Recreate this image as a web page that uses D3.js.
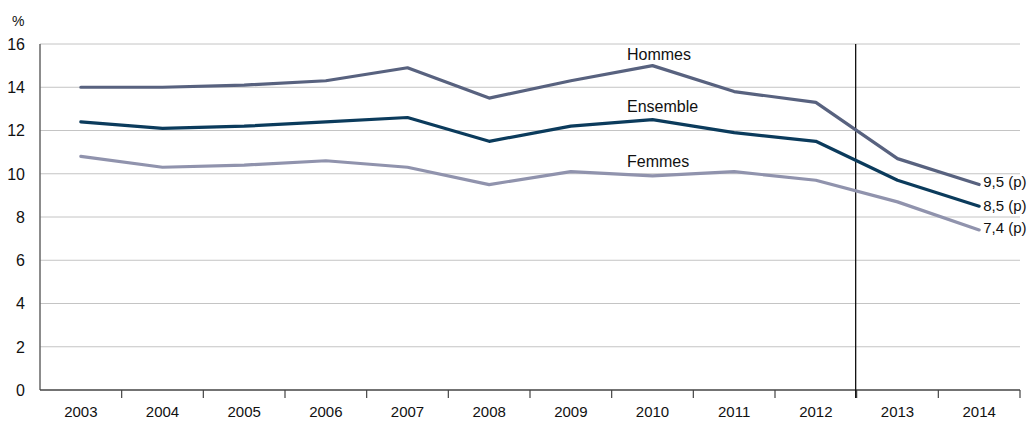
<!DOCTYPE html>
<html><head><meta charset="utf-8">
<script src="https://cdn.jsdelivr.net/npm/d3@7/dist/d3.min.js"></script>
<style>
body{margin:0;background:#fff;}
text{font-family:"Liberation Sans",Arial,sans-serif;fill:#111;}
</style></head>
<body>
<svg id="c" width="1029" height="421"></svg>
<script>
const years = ["2003","2004","2005","2006","2007","2008","2009","2010","2011","2012","2013","2014"];
const hommes   = [14.0,14.0,14.1,14.3,14.9,13.5,14.3,15.0,13.8,13.3,10.7,9.5];
const ensemble = [12.4,12.1,12.2,12.4,12.6,11.5,12.2,12.5,11.9,11.5,9.7,8.5];
const femmes   = [10.8,10.3,10.4,10.6,10.3,9.5,10.1,9.9,10.1,9.7,8.7,7.4];
const yTicks = [0,2,4,6,8,10,12,14,16];
const seriesNames = ["Hommes","Ensemble","Femmes"];
const endLabels = ["9,5 (p)","8,5 (p)","7,4 (p)"];

const svg = d3.select("#c");
const L = 40, R = 1020, T = 44, B = 390;
const x = d3.scaleBand().domain(years).range([L, R]);
const y = d3.scaleLinear().domain([0,16]).range([B, T]);

// gridlines
svg.append("g").selectAll("line").data(yTicks.filter(d=>d>0)).join("line")
  .attr("x1", L).attr("x2", R).attr("y1", d=>y(d)).attr("y2", d=>y(d))
  .attr("stroke", "#c4c4c4").attr("stroke-width", 1);

// y tick labels
svg.append("g").selectAll("text").data(yTicks).join("text")
  .attr("x", 25).attr("y", d=>y(d)).attr("dy","0.36em")
  .attr("text-anchor","end").attr("font-size", 16).text(d=>d);
svg.append("text").attr("x", 12).attr("y", 26).attr("font-size", 14).text("%");

// axes lines
svg.append("line").attr("x1", L).attr("x2", L).attr("y1", T).attr("y2", B)
  .attr("stroke", "#666").attr("stroke-width", 1.5);
svg.append("line").attr("x1", L).attr("x2", R).attr("y1", B).attr("y2", B)
  .attr("stroke", "#444").attr("stroke-width", 1.5);

// x ticks between categories
const bounds = years.slice(1).map(d=>x(d)).concat([R]);
svg.append("g").selectAll("line").data(bounds).join("line")
  .attr("x1", d=>d).attr("x2", d=>d).attr("y1", B).attr("y2", B+8)
  .attr("stroke", "#444").attr("stroke-width", 1.2);

// x labels
svg.append("g").selectAll("text").data(years).join("text")
  .attr("x", d=>x(d)+x.bandwidth()/2).attr("y", 417)
  .attr("text-anchor","middle").attr("font-size", 15).text(d=>d);

// vertical separator
svg.append("line").attr("x1", x("2013")-1).attr("x2", x("2013")-1).attr("y1", T).attr("y2", B+8)
  .attr("stroke", "#111").attr("stroke-width", 1.3);

const colors = ["#58627f","#0b3b5c","#9093ad"];
const data = [hommes, ensemble, femmes];
const line = d3.line().x((d,i)=>x(years[i])+x.bandwidth()/2).y(d=>y(d));
data.forEach((s,k)=>{
  svg.append("path").attr("d", line(s)).attr("fill","none")
    .attr("stroke", colors[k]).attr("stroke-width", 3.2)
    .attr("stroke-linecap","round").attr("stroke-linejoin","round");
});

// series labels
const labelY = [54, 106, 161.5];
seriesNames.forEach((n,k)=>{
  svg.append("text").attr("x", 627).attr("y", labelY[k]).attr("dy","0.36em")
    .attr("font-size", 16).text(n);
});
// end labels
const endX = x("2014")+x.bandwidth()/2 + 4;
const endY = [y(9.5)-3, y(8.5)-1, y(7.4)-2];
endLabels.forEach((t,k)=>{
  svg.append("text").attr("x", endX).attr("y", endY[k]).attr("dy","0.36em")
    .attr("font-size", 15).text(t);
});
</script>
</body></html>
